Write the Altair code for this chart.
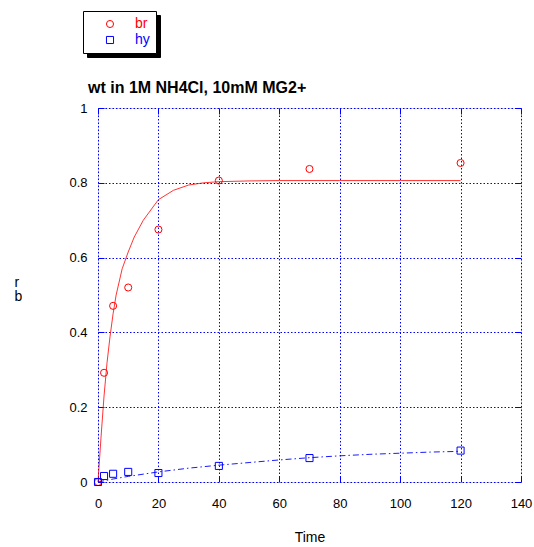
import altair as alt
import pandas as pd

# ---- data ----
times = [0, 2, 5, 10, 20, 40, 70, 120]
br_vals = [0.0, 0.292, 0.471, 0.520, 0.675, 0.806, 0.837, 0.853]
hy_vals = [0.0, 0.016, 0.022, 0.027, 0.024, 0.043, 0.064, 0.084]

br_fit_t = [0, 1, 2, 3, 4, 5, 6, 8, 10, 12, 15, 20, 25, 30, 35, 40, 50, 60, 80, 100, 120]
br_fit_v = [0, 0.12, 0.23, 0.32, 0.39, 0.45, 0.50, 0.57, 0.615, 0.655, 0.70, 0.755,
            0.78, 0.794, 0.80, 0.803, 0.805, 0.806, 0.806, 0.806, 0.806]
hy_fit_t = [0, 5, 10, 20, 30, 40, 50, 60, 70, 80, 90, 100, 110, 120]
hy_fit_v = [0, 0.008, 0.015, 0.027, 0.037, 0.045, 0.052, 0.059, 0.065, 0.070,
            0.074, 0.077, 0.080, 0.082]

series_names = ["br", "hy"]
series_colors = ["#ff0000", "#0000ff"]
series_shapes = ["circle", "square"]
x_ticks = [0, 20, 40, 60, 80, 100, 120, 140]
y_ticks = [0, 0.2, 0.4, 0.6, 0.8, 1.0]

title_text = "wt in 1M NH4Cl, 10mM MG2+"
x_title = "Time"
y_title = ["r", "b"]

FONT = "Liberation Sans"
BLUE = "#0000ff"

pts = pd.DataFrame(
    {"t": times * 2,
     "v": br_vals + hy_vals,
     "series": ["br"] * len(times) + ["hy"] * len(times)}
)
pts["s2"] = pts["series"]
br_fit = pd.DataFrame({"t": br_fit_t, "v": br_fit_v})
hy_fit = pd.DataFrame({"t": hy_fit_t, "v": hy_fit_v})

xscale = alt.Scale(domain=[0, 140], nice=False, zero=False)
yscale = alt.Scale(domain=[0, 1], nice=False, zero=False)

x_axis = alt.Axis(values=x_ticks, title=x_title, titleFontSize=14, titleFontWeight="normal",
                  titleFont=FONT, titleColor="black", titleY=65, titleBaseline="alphabetic",
                  grid=True, gridColor=BLUE, gridDash=[1.5, 2], gridWidth=1, gridOpacity=1,
                  domain=False, ticks=True, tickSize=6, tickColor=BLUE, tickWidth=1,
                  offset=-6, labelPadding=15, labelFontSize=13, labelFont=FONT,
                  labelColor="black", labelFlush=False, labelOverlap=False)
y_axis = alt.Axis(values=y_ticks, format="~g", title=y_title, titleAngle=0,
                  titleX=-90, titleY=178, titleAlign="left", titleBaseline="alphabetic",
                  titleFontSize=14, titleFontWeight="normal", titleFont=FONT,
                  titleColor="black", titleLineHeight=14,
                  grid=True, gridColor=BLUE, gridDash=[1.5, 2], gridWidth=1, gridOpacity=1,
                  domain=False, ticks=True, tickSize=6, tickColor=BLUE, tickWidth=1,
                  offset=-6, labelPadding=11, labelFontSize=13, labelFont=FONT,
                  labelColor="black", labelFlush=False, labelOverlap=False)
x_axis_top = alt.Axis(orient="top", values=x_ticks, labels=False, title=None, grid=False,
                      domain=False, ticks=True, tickSize=6, tickColor=BLUE, tickWidth=1,
                      offset=-6)
y_axis_right = alt.Axis(orient="right", values=y_ticks, labels=False, title=None, grid=False,
                        domain=False, ticks=True, tickSize=6, tickColor=BLUE, tickWidth=1,
                        offset=-6)

br_line = alt.Chart(br_fit).mark_line(color="#ff0000", strokeWidth=0.8).encode(
    x=alt.X("t:Q", scale=xscale, axis=x_axis),
    y=alt.Y("v:Q", scale=yscale, axis=y_axis),
)
hy_line = alt.Chart(hy_fit).mark_line(color=BLUE, strokeWidth=0.9,
                                      strokeDash=[6, 3, 1.5, 3]).encode(
    x=alt.X("t:Q", scale=xscale, axis=None),
    y=alt.Y("v:Q", scale=yscale, axis=None),
)

LEG = dict(orient="none", title=None, padding=6, symbolOffset=14, labelOffset=18,
           rowPadding=2, clipHeight=14, symbolSize=50, symbolStrokeWidth=1,
           labelFontSize=14, labelFont=FONT)

main_legend = alt.Legend(legendX=-15, legendY=-97, fillColor="white", strokeColor="black",
                         zindex=1,
                         labelColor={"expr": "datum.value == 'br' ? '#ff0000' : '#0000ff'"},
                         **LEG)
points = alt.Chart(pts).mark_point(filled=False, size=50, strokeWidth=1, opacity=1).encode(
    x=alt.X("t:Q", scale=xscale, axis=None),
    y=alt.Y("v:Q", scale=yscale, axis=None),
    color=alt.Color("series:N", scale=alt.Scale(domain=series_names, range=series_colors),
                    legend=main_legend),
    shape=alt.Shape("series:N", scale=alt.Scale(domain=series_names, range=series_shapes),
                    legend=main_legend),
)

shadow_legend = alt.Legend(legendX=-11, legendY=-93, fillColor="black", strokeColor="black",
                           labelColor="black", zindex=0,
                           symbolFillColor="black", symbolStrokeColor="black", **LEG)
shadow = alt.Chart(pts).mark_point(size=50, opacity=0).encode(
    x=alt.X("t:Q", scale=xscale, axis=x_axis_top),
    y=alt.Y("v:Q", scale=yscale, axis=y_axis_right),
    size=alt.Size("s2:O", scale=alt.Scale(range=[50, 50]), legend=shadow_legend),
)

chart = alt.layer(br_line, hy_line, points, shadow).resolve_axis(
    x="independent", y="independent"
).properties(
    width=423, height=374,
    autosize=alt.AutoSizeParams(type="none"),
    padding={"left": 98, "top": 108, "right": 13, "bottom": 65},
    title=alt.TitleParams(text=title_text, anchor="start", frame="group", dx=-10,
                          offset=-98, baseline="alphabetic", fontSize=16,
                          fontWeight="bold", font=FONT, color="black"),
).configure_view(stroke=BLUE, strokeWidth=2).configure(font=FONT, background="white")

chart.save("out.html", embed_options={"renderer": "svg", "actions": False})
